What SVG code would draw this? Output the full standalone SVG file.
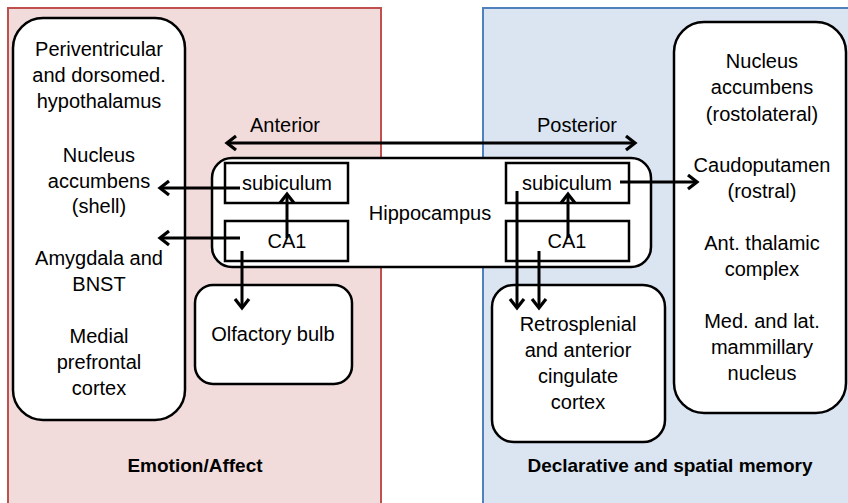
<svg xmlns="http://www.w3.org/2000/svg" width="848" height="503" viewBox="0 0 848 503">
<style>
.box{fill:#ffffff;stroke:#000;stroke-width:2.5}
.t{font-family:"Liberation Sans",Arial,sans-serif;font-size:20px;fill:#000;text-anchor:middle}
.b{font-family:"Liberation Sans",Arial,sans-serif;font-size:19px;font-weight:bold;fill:#000;text-anchor:middle}
.c{fill:none;stroke:#000;stroke-width:3}
</style>
<defs>
<marker id="ah" markerUnits="userSpaceOnUse" markerWidth="20" markerHeight="20" viewBox="-12 -10 16 20" refX="0" refY="0" orient="auto-start-reverse">
<path d="M -9 -7 L 0 0 L -9 7" fill="none" stroke="#000" stroke-width="3.2"/>
</marker>
</defs>
<g id="panel-emotion">
<rect x="8" y="8" width="373" height="510" fill="#f2dcdb" stroke="#c0504d" stroke-width="2"/>
<text class="b" x="195" y="472">Emotion/Affect</text>
</g>
<g id="panel-memory">
<rect x="483" y="8" width="380" height="510" fill="#dbe5f1" stroke="#4f81bd" stroke-width="2"/>
<text class="b" x="670" y="472">Declarative and spatial memory</text>
</g>
<g id="left-targets">
<rect class="box" x="13" y="18" width="172" height="402" rx="30"/>
<text class="t" x="99" y="56">Periventricular</text>
<text class="t" x="99" y="82">and dorsomed.</text>
<text class="t" x="99" y="108">hypothalamus</text>
<text class="t" x="99" y="162">Nucleus</text>
<text class="t" x="99" y="188">accumbens</text>
<text class="t" x="99" y="213">(shell)</text>
<text class="t" x="99" y="265">Amygdala and</text>
<text class="t" x="99" y="291">BNST</text>
<text class="t" x="99" y="343">Medial</text>
<text class="t" x="99" y="369">prefrontal</text>
<text class="t" x="99" y="395">cortex</text>
</g>
<g id="right-targets">
<rect class="box" x="674" y="22" width="172" height="391" rx="30"/>
<text class="t" x="762" y="68">Nucleus</text>
<text class="t" x="762" y="94">accumbens</text>
<text class="t" x="762" y="121">(rostolateral)</text>
<text class="t" x="762" y="172">Caudoputamen</text>
<text class="t" x="762" y="198">(rostral)</text>
<text class="t" x="762" y="250">Ant. thalamic</text>
<text class="t" x="762" y="276">complex</text>
<text class="t" x="762" y="328">Med. and lat.</text>
<text class="t" x="762" y="354">mammillary</text>
<text class="t" x="762" y="380">nucleus</text>
</g>
<g id="hippocampus">
<rect class="box" x="212" y="158" width="439" height="109" rx="20"/>
<text class="t" x="430" y="220">Hippocampus</text>
</g>
<g id="subiculum-anterior">
<rect class="box" x="225" y="163" width="123" height="40"/>
<text class="t" x="287" y="190">subiculum</text>
</g>
<g id="ca1-anterior">
<rect class="box" x="225" y="221" width="123" height="40"/>
<text class="t" x="287" y="248">CA1</text>
</g>
<g id="subiculum-posterior">
<rect class="box" x="506" y="163" width="123" height="40"/>
<text class="t" x="567" y="190">subiculum</text>
</g>
<g id="ca1-posterior">
<rect class="box" x="506" y="221" width="123" height="40"/>
<text class="t" x="567" y="248">CA1</text>
</g>
<g id="olfactory">
<rect class="box" x="195" y="285" width="157" height="99" rx="18"/>
<text class="t" x="273" y="341">Olfactory bulb</text>
</g>
<g id="retrosplenial">
<rect class="box" x="492" y="285" width="173" height="157" rx="22"/>
<text class="t" x="578" y="331">Retrosplenial</text>
<text class="t" x="578" y="357">and anterior</text>
<text class="t" x="578" y="383">cingulate</text>
<text class="t" x="578" y="409">cortex</text>
</g>
<g id="axis-labels">
<text class="t" x="285" y="132">Anterior</text>
<text class="t" x="577" y="132">Posterior</text>
</g>
<g id="connectors">
<line class="c" x1="227" y1="143" x2="635" y2="143" marker-start="url(#ah)" marker-end="url(#ah)"/>
<line class="c" x1="240" y1="188" x2="160" y2="188" marker-end="url(#ah)"/>
<line class="c" x1="240" y1="238" x2="160" y2="238" marker-end="url(#ah)"/>
<line class="c" x1="287" y1="238" x2="287" y2="194" marker-end="url(#ah)"/>
<line class="c" x1="242" y1="251" x2="242" y2="308" marker-end="url(#ah)"/>
<line class="c" x1="620" y1="182" x2="697" y2="182" marker-end="url(#ah)"/>
<line class="c" x1="568" y1="238" x2="568" y2="194" marker-end="url(#ah)"/>
<line class="c" x1="517" y1="191" x2="517" y2="308" marker-end="url(#ah)"/>
<line class="c" x1="539" y1="251" x2="539" y2="308" marker-end="url(#ah)"/>
</g>
</svg>
